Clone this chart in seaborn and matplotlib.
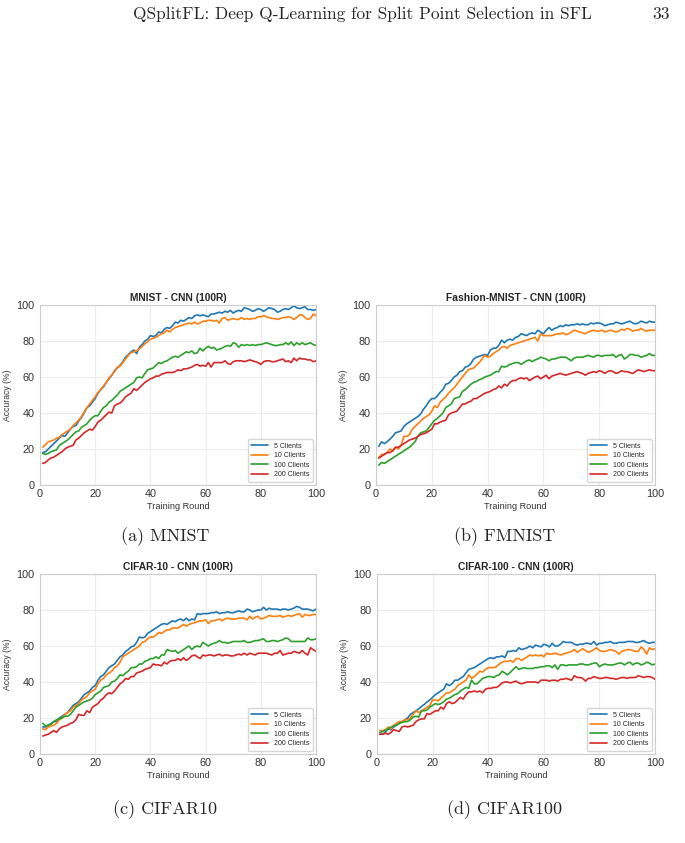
import numpy as np
import pandas as pd
import matplotlib.pyplot as plt
import seaborn as sns

rounds = list(range(1, 101))
clients = ['5 Clients', '10 Clients', '100 Clients', '200 Clients']
titles = ['MNIST - CNN (100R)', 'Fashion-MNIST - CNN (100R)',
          'CIFAR-10 - CNN (100R)', 'CIFAR-100 - CNN (100R)']
captions = ['(a) MNIST', '(b) FMNIST', '(c) CIFAR10', '(d) CIFAR100']
page_header = 'QSplitFL: Deep Q-Learning for Split Point Selection in SFL'
page_number = '33'

mnist_5 = [18, 18.5, 20, 21.5, 23, 24.5, 26, 27.5, 27, 29,
           31, 32.5, 33, 35.5, 37.5, 40, 43, 44, 46, 48,
           51, 53, 54.5, 57, 59, 61, 63.5, 65, 66.5, 68.5,
           71, 72.5, 74, 75, 73, 76.5, 78, 80, 81, 83,
           82.5, 83, 85, 84.5, 86.5, 87.5, 87, 88.5, 90.5, 90,
           91.5, 91, 92, 93, 92.5, 94, 94.5, 94, 94.5, 94,
           93.5, 95, 95, 95.5, 96, 95.5, 96.5, 96, 97, 95.5,
           96.5, 97, 96.5, 98.5, 98, 97.5, 96.5, 97, 98, 97.5,
           96.5, 97.5, 98.5, 98, 97.5, 96, 96.5, 97.5, 98, 97.5,
           98.5, 99.5, 98.5, 98, 98.5, 99, 97.5, 97.5, 97, 97.5]
mnist_10 = [21, 22.5, 24, 24.5, 25, 26, 26.5, 28, 29, 30,
            31, 33, 34.5, 36, 38, 40.5, 43, 45, 47, 49,
            51.5, 53, 55, 57, 59.5, 61, 63, 65.5, 66, 68,
            70, 72, 73.5, 74, 74.5, 75.5, 77, 78.5, 79.5, 81,
            81.5, 82, 83, 84, 84.5, 86, 85, 86.5, 87.5, 88,
            88.5, 89, 89.5, 90, 89.5, 90.5, 89.5, 90, 91, 91,
            91.5, 91.5, 91, 91.5, 90, 92.5, 93, 91.5, 92, 92.5,
            92, 92, 93, 92, 92.5, 92, 92.5, 92.5, 93.5, 93.5,
            94, 93.5, 93, 92.5, 92.5, 92, 92.5, 93, 93, 93.5,
            93, 92, 93, 94.5, 94.5, 93, 92, 92.5, 95, 94]
mnist_100 = [17.5, 17, 17.5, 18.5, 19, 19.5, 22, 23, 24, 25,
             26.5, 28, 29.5, 30, 32, 33, 34, 36, 37.5, 38.5,
             38.5, 41, 43, 44, 46, 47, 48.5, 50, 52, 53,
             54, 55, 56, 57, 59.5, 60, 59.5, 62, 64, 64.5,
             65, 66.5, 68, 67.5, 68.5, 69, 70, 71, 71.5, 71,
             72, 73, 74, 73.5, 74.5, 73, 73.5, 76, 74.5, 76,
             77, 76, 76.5, 75, 75.5, 76, 77, 77.5, 77, 79,
             78.5, 76.5, 78, 77.5, 78, 77.5, 78, 77.5, 78, 78,
             78.5, 79, 78.5, 78, 77.5, 77.5, 78, 78, 79, 78,
             79.5, 77.5, 79, 78, 79, 78, 78.5, 79, 78, 77.5]
mnist_200 = [12, 12.5, 14, 15, 15.5, 16.5, 17.5, 18.5, 20, 21,
             21.5, 22, 25, 26, 27.5, 29, 30, 31, 30.5, 32.5,
             35, 36, 37.5, 39, 40.5, 40, 44, 45, 45.5, 47,
             49, 50, 51, 53.5, 52.5, 54, 55.5, 57, 58, 59,
             59.5, 60.5, 60.5, 61.5, 62, 62.5, 62.5, 62.5, 63, 64,
             63.5, 64.5, 64.5, 65, 65.5, 66.5, 67, 66, 66.5, 66,
             68, 65.5, 68, 68, 68, 68, 69, 67.5, 67, 68.5,
             69, 69, 69, 68.5, 69, 69.5, 69, 68.5, 68, 67,
             68.5, 69, 69, 68.5, 68.5, 69, 69.5, 70, 68.5, 69,
             68, 70.5, 69, 70.5, 70, 70, 69.5, 69.5, 68.5, 69]

fmnist_5 = [21.5, 24, 23, 24, 25.5, 27, 29, 29.5, 30, 32.5,
            34, 35, 36, 37, 38, 39.5, 42, 44, 46.5, 48,
            48, 49.5, 51.5, 53, 56, 56.5, 58, 60, 61, 63,
            63.5, 65.5, 66, 67.5, 70, 71, 71.5, 72, 72.5, 72,
            75, 76, 76, 77.5, 80.5, 79, 80.5, 81, 80.5, 82,
            82.5, 84, 83.5, 83, 84, 84.5, 84, 86, 85, 84,
            86, 87.5, 86, 87, 87.5, 88.5, 88, 89, 88.5, 89,
            89, 89.5, 89, 89.5, 89, 89, 90, 89.5, 90, 90,
            89.5, 88.5, 89, 89.5, 89.5, 90.5, 90, 89.5, 90, 90.5,
            91, 90, 89.5, 90, 91, 90.5, 90, 91, 90.5, 90.5]
fmnist_10 = [15, 17, 17, 18, 20, 19, 21, 20, 22, 27,
             27, 28, 31, 32.5, 34, 35.5, 37, 38, 39, 41,
             44, 43, 46, 47.5, 49, 51, 52.5, 54, 56, 58,
             60, 62, 64, 64.5, 65, 66.5, 68, 70, 72, 71,
             71.5, 73, 74, 75, 76.5, 77, 76, 77.5, 78, 78.5,
             79, 79.5, 80, 80.5, 81, 81.5, 82, 80, 84, 83,
             83, 83, 83, 83.5, 84, 84, 84.5, 83.5, 84, 85,
             86, 85.5, 85, 84.5, 84, 85, 85.5, 86, 85.5, 85.5,
             86, 85, 85.5, 86, 85.5, 85, 85.5, 86.5, 86, 87,
             86.5, 85.5, 86, 86, 87, 86, 85.5, 86, 86, 86]
fmnist_100 = [11, 12.5, 12, 13, 14, 15, 16, 17, 18, 19,
              20, 21, 22.5, 24, 27, 29, 29.5, 30, 32, 34,
              36, 37, 38.5, 40, 43, 44, 45, 48, 48.5, 49,
              52, 53, 54.5, 56, 57, 57.5, 58.5, 59, 60, 60.5,
              61, 62, 63, 63, 66, 65.5, 66, 67, 67.5, 68,
              68, 67, 68, 69, 69.5, 68.5, 69.5, 70, 71, 70.5,
              70, 69, 70, 70, 70.5, 71, 71, 71, 70, 69,
              70.5, 71, 71, 71, 71.5, 72, 71.5, 71, 72, 72,
              71.5, 72, 72, 72, 72.5, 71, 72, 72.5, 70, 71,
              72.5, 72.5, 72, 72, 71, 71.5, 72, 73, 72, 72]
fmnist_200 = [15, 16, 17, 18, 18, 19, 21, 21, 22, 23,
              24, 25, 25.5, 26, 27, 28, 28.5, 29, 30, 31,
              34, 34, 35, 35.5, 36, 39, 40, 40.5, 41, 43,
              45, 45, 46, 46.5, 48, 48, 49, 50, 51, 51.5,
              52, 53, 53.5, 55, 54, 56, 55, 57, 58, 58,
              59, 59.5, 59, 59.5, 58, 59, 60, 60.5, 59, 60,
              61, 59, 60.5, 61, 61.5, 62, 61.5, 61, 61.5, 62,
              62.5, 63, 62.5, 62, 61, 62, 62.5, 63, 62.5, 63.5,
              63, 62, 63, 63.5, 63, 62, 62.5, 63.5, 63, 63,
              62.5, 62, 63, 64, 63.5, 63, 63.5, 64, 63.5, 63.5]

cifar10_5 = [15, 15, 16, 17, 18, 18, 20, 21, 22, 23,
             25, 27, 28, 29, 31, 33, 34, 35, 37, 38,
             41, 43, 44, 46, 48, 49, 50, 52, 54, 55,
             57, 58, 59.5, 60, 62, 65, 64.5, 65, 67, 68,
             69, 70, 71, 72, 72.5, 72, 73, 74, 73.5, 74.5,
             75, 74, 75.5, 74, 75, 74.5, 78, 77.5, 78, 78,
             78, 78.5, 78.5, 79, 78, 78.5, 78.5, 79, 78.5, 78.5,
             79, 79.5, 79, 79, 80.5, 80, 79, 79.5, 80, 80,
             81.5, 80, 81, 80.5, 80.5, 80.5, 80, 80.5, 80.5, 80,
             80.5, 81, 82, 81.5, 80.5, 80.5, 80.5, 80, 79.5, 80.5]
cifar10_10 = [14, 13.5, 15, 15.5, 16, 17, 19, 20, 22, 23,
              24, 26, 27, 28, 30, 31, 32, 34, 35, 36,
              39, 41, 42, 44, 45, 46, 48, 49, 51, 54,
              55, 56, 57, 58, 59, 60, 62, 62.5, 64, 65,
              65, 66, 67.5, 67, 68, 69, 69, 70, 70, 70,
              71, 72, 71, 72, 72.5, 73, 73.5, 74, 74, 74.5,
              72.5, 74, 74, 74.5, 75, 74, 75, 75.5, 75, 75,
              75, 75.5, 75.5, 75.5, 74.5, 76.5, 75, 76, 76.5, 75,
              75.5, 76, 77, 76.5, 76.5, 76.5, 77, 76, 76.5, 77,
              76.5, 77, 77.5, 78, 76, 77.5, 77, 77, 77.5, 77.5]
cifar10_100 = [17, 15.5, 16, 16.5, 18, 19, 19.5, 20, 21, 21,
               22, 24, 26, 27, 28, 29, 29.5, 30, 31, 33,
               34, 35, 37, 37.5, 38, 40, 40.5, 42, 44, 43.5,
               45, 46, 48, 48, 48.5, 50, 50, 51.5, 52, 53,
               53, 54, 53, 55, 55, 58, 57.5, 57, 57.5, 56,
               57, 58, 59, 60, 58, 59.5, 60, 59.5, 62, 61,
               60, 61, 61.5, 62, 63, 62, 62, 61.5, 62, 62.5,
               62.5, 62.5, 62.5, 63, 62, 62, 62.5, 63, 63, 63.5,
               64, 62.5, 62.5, 63, 63, 62.5, 63, 63.5, 64.5, 64,
               62.5, 62.5, 62.5, 62.5, 62.5, 62.5, 64.5, 63.5, 63.5, 64]
cifar10_200 = [10, 10.5, 11, 12, 13, 12, 14, 15, 15.5, 16,
               17, 17.5, 19, 22, 21.5, 21.5, 24, 23, 26, 27,
               28, 30, 31, 33, 34, 33.5, 35, 37, 39, 40,
               42, 41.5, 43, 43, 45, 45.5, 46, 47, 47.5, 48,
               50, 49.5, 49.5, 49, 51, 50, 51.5, 52, 52, 53,
               52, 53.5, 52, 53, 54.5, 55, 54, 53, 55, 54.5,
               55, 55, 54.5, 55, 55.5, 54.5, 55, 55, 54.5, 54.5,
               55, 55.5, 55, 56, 55, 56, 55.5, 55, 56, 56,
               56, 56, 55.5, 55, 56, 56, 57.5, 55, 55.5, 56,
               56, 57, 56.5, 56, 57.5, 56, 55, 59, 58, 57]

cifar100_5 = [11, 11, 12, 14, 13.5, 15, 16, 17, 18, 19,
              20, 22, 23, 24, 25, 26.5, 27.5, 29, 30, 31.5,
              33, 34, 35, 36, 39, 38, 39, 41, 41, 42,
              43, 45, 47, 47.5, 48, 49, 50, 51, 52, 53,
              53.5, 53, 54, 54, 54.5, 53.5, 57, 57, 57.5, 57,
              59, 58, 58.5, 59, 60, 59, 60.5, 60, 59.5, 61,
              60.5, 59.5, 61.5, 60, 60, 61, 62.5, 62, 62, 62,
              61, 60.5, 61, 61, 61.5, 61.5, 61, 62.5, 60.5, 61.5,
              61.5, 62, 62, 62.5, 61.5, 61.5, 62, 62, 62, 62.5,
              62.5, 62.5, 62, 62, 62.5, 63, 62, 61.5, 62, 62]
cifar100_10 = [13, 13, 13.5, 15, 14, 16, 17, 18, 18, 19,
               19, 20, 22, 24, 23, 24, 25, 26, 27, 30,
               30, 29.5, 31, 32.5, 34, 34, 35, 36, 38, 39,
               40, 41, 44, 42, 43, 44.5, 46, 45.5, 47, 48,
               48, 48, 48.5, 50, 51, 51.5, 51.5, 52, 51, 53,
               53, 52, 53, 54, 55, 54.5, 55, 54.5, 55, 54,
               56, 55.5, 55.5, 56, 55.5, 55, 55.5, 56, 56.5, 57,
               58, 56.5, 57.5, 58.5, 57.5, 56.5, 57, 58, 59, 57.5,
               57, 57, 57.5, 58, 57.5, 57, 55.5, 57, 57.5, 58,
               58, 57.5, 57, 57, 59.5, 58, 55.5, 59, 58, 58.5]
cifar100_100 = [12, 12.5, 13, 14, 15, 15.5, 16, 17, 17.5, 18,
                18, 19, 20.5, 21, 20.5, 24, 24, 24.5, 26, 27,
                28, 27.5, 28, 29, 30.5, 31, 32, 33, 33.5, 35,
                36, 37, 36.5, 41, 39, 39, 40.5, 42, 42.5, 43,
                43, 42.5, 43.5, 44, 46, 45, 44, 45.5, 47, 48.5,
                47, 47.5, 48, 47.5, 47.5, 47.5, 48, 48, 48.5, 48.5,
                49, 49, 48, 49.5, 47, 49.5, 49.5, 49, 49.5, 49.5,
                49.5, 49.5, 50, 50, 49.5, 49.5, 50, 50.5, 50.5, 48.5,
                49.5, 50, 49.5, 49.5, 49.5, 50, 50.5, 50.5, 49.5, 50.5,
                51, 49.5, 50.5, 50.5, 49.5, 50, 51, 50.5, 49.5, 50]
cifar100_200 = [11, 11, 11.5, 11, 12, 13.5, 13, 12.5, 15, 15.5,
                15, 15.5, 16, 18, 19, 19.5, 19.5, 22.5, 22, 23,
                24, 24, 26, 25, 28, 29, 28, 28.5, 30, 31.5,
                30.5, 33, 34.5, 34.5, 35, 34.5, 35, 34, 36, 36.5,
                36.5, 37, 37, 38, 39.5, 40, 40, 39.5, 40, 40.5,
                39.5, 39, 39.5, 40, 40, 40, 40, 39.5, 41, 41,
                41, 40.5, 41, 41, 40.5, 41.5, 41.5, 42, 41.5, 41,
                43.5, 42.5, 42.5, 42, 40.5, 42, 42, 43, 42.5, 42,
                42, 42.5, 42.5, 42, 42, 41.5, 42, 42.5, 42.5, 42,
                42.5, 42.5, 42.5, 43.5, 43, 42.5, 43, 43, 42.5, 41.5]

panels = [
    [mnist_5, mnist_10, mnist_100, mnist_200],
    [fmnist_5, fmnist_10, fmnist_100, fmnist_200],
    [cifar10_5, cifar10_10, cifar10_100, cifar10_200],
    [cifar100_5, cifar100_10, cifar100_100, cifar100_200],
]

sns.set_style('whitegrid')
plt.rcParams['font.family'] = ['Liberation Sans', 'DejaVu Sans']
plt.rcParams['axes.edgecolor'] = '#cccccc'
plt.rcParams['grid.color'] = '#ececec'

fig = plt.figure(figsize=(6.85, 8.43), dpi=100)

# axes boxes in pixels: left, top, right, bottom
boxes = [(40, 305, 316, 485), (376, 305, 655, 485),
         (40, 574, 316, 754), (377, 574, 655, 754)]
caption_pos = [(165, 537), (505, 537), (165, 810), (505, 810)]
W, H = 685, 843

for i, (series, box) in enumerate(zip(panels, boxes)):
    l, t, r, b = box
    ax = fig.add_axes([l / W, 1 - b / H, (r - l) / W, (b - t) / H])
    df = pd.DataFrame({
        'Training Round': rounds * 4,
        'Accuracy (%)': [v for s in series for v in s],
        'Clients': [c for c in clients for _ in rounds],
    })
    sns.lineplot(data=df, x='Training Round', y='Accuracy (%)', hue='Clients',
                 hue_order=clients, palette='tab10', linewidth=1.2, ax=ax)
    ax.set_xlim(0, 100)
    ax.set_ylim(0, 100)
    ax.set_xticks([0, 20, 40, 60, 80, 100])
    ax.set_yticks([0, 20, 40, 60, 80, 100])
    ax.tick_params(axis='x', labelsize=7.8, pad=3, length=0, colors='#333333')
    ax.tick_params(axis='y', labelsize=7.8, pad=4, length=0, colors='#333333')
    ax.set_title(titles[i], fontsize=7.4, fontweight='bold', pad=3)
    ax.set_ylabel('Accuracy (%)', fontsize=6.2, labelpad=3, color='#333333')
    ax.set_xlabel('Training Round', fontsize=6.6, labelpad=2, color='#333333')
    for sp in ax.spines.values():
        sp.set_linewidth(0.8)
    ax.legend(loc='lower right', fontsize=5, handlelength=2.4,
              labelspacing=0.35, borderpad=0.5, frameon=True,
              edgecolor='#cccccc', bbox_to_anchor=(1.0, 0.0),
              borderaxespad=0.5)
    cx, cy = caption_pos[i]
    fig.text(cx / W, 1 - cy / H, captions[i], fontsize=13, family='cmr10',
             ha='center', va='center')

fig.text(362 / W, 1 - 14 / H, page_header, fontsize=12.5, family='cmr10',
         ha='center', va='center')
fig.text(670 / W, 1 - 14 / H, page_number, fontsize=12.5, family='cmr10',
         ha='right', va='center')

fig.savefig('out.png', dpi=100)
